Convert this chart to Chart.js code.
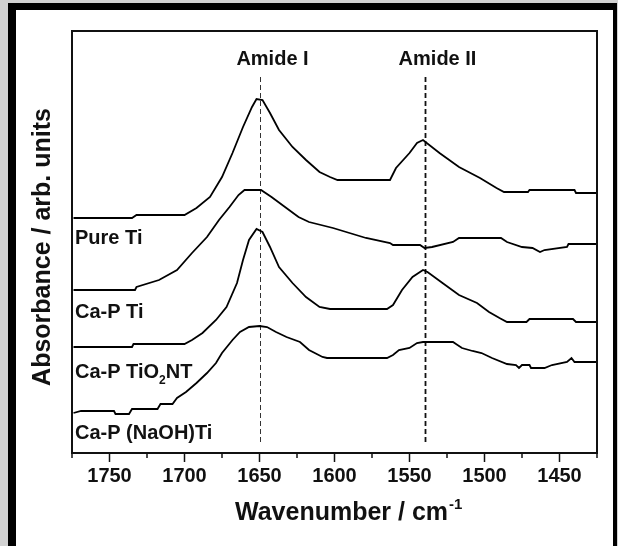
<!DOCTYPE html>
<html><head><meta charset="utf-8">
<script src="https://cdn.jsdelivr.net/npm/chart.js@4"></script>
<style>
html,body{margin:0;padding:0;background:#d2d2d2;width:618px;height:546px;overflow:hidden}
#frame{position:absolute;left:8px;top:3px;width:609px;height:543px;box-sizing:border-box;background:#fff;border-left:8px solid #000;border-top:7px solid #000;border-right:4px solid #000}
#c{position:absolute;left:0;top:0}
</style></head><body>
<div id="frame"></div>
<canvas id="c" width="618" height="546"></canvas>
<script>
// ---- data (wavenumber in cm-1, absorbance in arbitrary offset units) ----
const majorTicks = [1750,1700,1650,1600,1550,1500,1450];
const minorTicks = [1775,1725,1675,1625,1575,1525,1475,1425];
const seriesNames = ['Pure Ti','Ca-P Ti','Ca-P TiO2NT','Ca-P (NaOH)Ti'];
const amidePeaks = [1650,1540];
const amideNames = ['Amide I','Amide II'];

const pureTiWn  = [1774,1735,1732,1700,1692,1683,1675,1668,1661,1655,1652,1648,1643,1637,1628,1619,1610,1603,1598,1563,1559,1550,1545,1541,1530,1517,1503,1492,1487,1471,1470,1440,1439,1425];
const pureTiAbs = [2.35,2.35,2.38,2.38,2.45,2.56,2.76,3.00,3.26,3.46,3.54,3.53,3.40,3.23,3.06,2.93,2.81,2.76,2.73,2.73,2.85,3.00,3.10,3.13,3.00,2.86,2.75,2.65,2.61,2.61,2.63,2.63,2.60,2.60];

const capTiWn  = [1774,1733,1732,1717,1705,1695,1685,1677,1670,1664,1660,1649,1642,1633,1624,1617,1601,1590,1579,1563,1561,1543,1540,1535,1521,1517,1489,1485,1475,1468,1463,1460,1445,1444,1425];
const capTiAbs = [1.63,1.63,1.66,1.73,1.83,2.00,2.16,2.33,2.46,2.58,2.63,2.63,2.56,2.46,2.36,2.31,2.25,2.20,2.15,2.10,2.08,2.08,2.05,2.06,2.11,2.15,2.15,2.11,2.06,2.05,2.01,2.03,2.06,2.09,2.09];

const capNtWn  = [1774,1735,1734,1700,1695,1688,1679,1672,1665,1661,1657,1652,1648,1643,1637,1628,1619,1610,1603,1565,1561,1555,1548,1541,1538,1528,1517,1505,1497,1490,1485,1472,1470,1441,1439,1425];
const capNtAbs = [1.06,1.06,1.09,1.09,1.13,1.20,1.33,1.46,1.70,1.93,2.13,2.24,2.21,2.06,1.86,1.70,1.56,1.46,1.44,1.44,1.48,1.63,1.76,1.83,1.81,1.70,1.58,1.50,1.41,1.35,1.31,1.31,1.34,1.34,1.31,1.31];

const capNaWn  = [1774,1769,1747,1746,1737,1735,1718,1716,1708,1705,1699,1692,1685,1679,1675,1668,1663,1657,1650,1645,1639,1632,1623,1617,1608,1605,1565,1561,1557,1550,1545,1541,1521,1519,1515,1508,1502,1495,1485,1479,1477,1475,1470,1469,1460,1455,1445,1442,1440,1425];
const capNaAbs = [0.40,0.42,0.42,0.39,0.39,0.44,0.44,0.49,0.49,0.55,0.61,0.70,0.80,0.90,1.00,1.13,1.21,1.26,1.27,1.26,1.21,1.16,1.11,1.03,0.96,0.95,0.95,0.98,1.03,1.05,1.10,1.11,1.11,1.09,1.05,1.02,1.00,0.95,0.89,0.88,0.85,0.88,0.88,0.85,0.85,0.88,0.91,0.95,0.91,0.91];

const seriesWn  = [pureTiWn, capTiWn, capNtWn, capNaWn];
const seriesAbs = [pureTiAbs, capTiAbs, capNtAbs, capNaAbs];

const FONT = '"Liberation Sans", Arial, Helvetica, sans-serif';
const INK = '#111';

const decor = {
  id: 'decor',
  beforeDatasetsDraw(chart){
    const {ctx, chartArea:a, scales:{x}} = chart;
    ctx.save();
    amidePeaks.forEach((v,i)=>{
      const px = Math.round(x.getPixelForValue(v)) + 0.5;
      ctx.beginPath();
      ctx.setLineDash([5,3]);
      ctx.lineWidth = i===0 ? 1 : 1.8;
      ctx.strokeStyle = i===0 ? '#333' : '#111';
      ctx.moveTo(px, a.top + 46);
      ctx.lineTo(px, a.bottom - 10);
      ctx.stroke();
    });
    ctx.restore();
  },
  afterDraw(chart){
    const {ctx, chartArea:a, scales:{x}} = chart;
    ctx.save();
    // plot box
    ctx.strokeStyle = INK; ctx.lineWidth = 2;
    ctx.strokeRect(a.left, a.top, a.right - a.left, a.bottom - a.top);
    // minor ticks
    ctx.lineWidth = 1.5;
    minorTicks.forEach(v=>{
      const px = x.getPixelForValue(v);
      ctx.beginPath(); ctx.moveTo(px, a.bottom); ctx.lineTo(px, a.bottom + 5); ctx.stroke();
    });
    ctx.fillStyle = INK;
    ctx.textBaseline = 'alphabetic';
    // amide labels
    ctx.font = 'bold 20px ' + FONT;
    ctx.textAlign = 'center';
    amidePeaks.forEach((v,i)=>{
      ctx.fillText(amideNames[i], x.getPixelForValue(v) + 13, a.top + 34);
    });
    // series labels
    ctx.textAlign = 'left';
    const lx = a.left + 3;
    const lys = [244, 318, 378, 439];
    [0,1,3].forEach(i=> ctx.fillText(seriesNames[i], lx, lys[i]));
    // Ca-P TiO2NT with subscript
    let t1 = 'Ca-P TiO';
    ctx.fillText(t1, lx, lys[2]);
    let w = ctx.measureText(t1).width;
    ctx.font = 'bold 12px ' + FONT;
    ctx.fillText('2', lx + w, lys[2] + 6);
    w += ctx.measureText('2').width;
    ctx.font = 'bold 20px ' + FONT;
    ctx.fillText('NT', lx + w, lys[2]);
    // x title with superscript
    ctx.font = 'bold 25px ' + FONT;
    const xt = 'Wavenumber / cm';
    const tx = a.left + 163, ty = 520;
    ctx.fillText(xt, tx, ty);
    const xw = ctx.measureText(xt).width;
    ctx.font = 'bold 15px ' + FONT;
    ctx.fillText('-1', tx + xw + 1, ty - 11);
    // y title
    ctx.font = 'bold 25px ' + FONT;
    ctx.translate(43, 247);
    ctx.rotate(-Math.PI/2);
    ctx.textAlign = 'center';
    ctx.textBaseline = 'middle';
    ctx.fillText('Absorbance / arb. units', 0, 0);
    ctx.restore();
  }
};

const datasets = seriesNames.map((name,i)=>({
  label: name,
  data: seriesWn[i].map((wn,j)=>({x: wn, y: seriesAbs[i][j]})),
  borderColor: '#000',
  borderWidth: 1.8,
  pointRadius: 0,
  tension: 0,
  fill: false
}));

new Chart(document.getElementById('c'), {
  type: 'line',
  data: { datasets },
  plugins: [decor],
  options: {
    responsive: false,
    devicePixelRatio: 1,
    animation: false,
    layout: { padding: { left: 0, top: 31, right: 21, bottom: 0 } },
    plugins: { legend: { display: false }, tooltip: { enabled: false } },
    scales: {
      x: {
        type: 'linear',
        reverse: true,
        min: 1425, max: 1775,
        afterBuildTicks: s => { s.ticks = majorTicks.map(v => ({ value: v })); },
        afterFit: s => { s.height = 93; },
        grid: { display: true, drawOnChartArea: false, drawTicks: true, tickLength: 9, tickWidth: 1.5, tickColor: INK },
        border: { display: true, width: 2, color: INK },
        ticks: { color: INK, padding: 2, maxRotation: 0, autoSkip: false,
                 callback: v => String(v),
                 font: { family: FONT, size: 20, weight: 'bold' } }
      },
      y: {
        type: 'linear',
        min: 0, max: 4.22,
        afterFit: s => { s.width = 72; },
        grid: { display: false },
        border: { display: true, width: 2, color: INK },
        ticks: { display: false }
      }
    }
  }
});
</script>
</body></html>
